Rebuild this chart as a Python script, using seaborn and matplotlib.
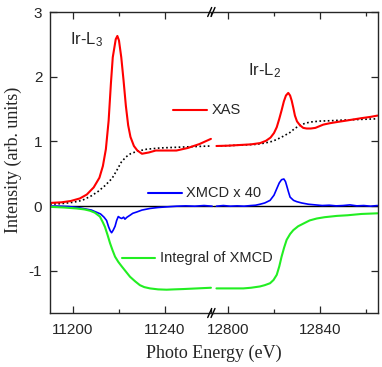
import numpy as np
import pandas as pd
import matplotlib
matplotlib.use("Agg")
import matplotlib.pyplot as plt
from matplotlib.ticker import MultipleLocator
import seaborn as sns

# Ir-L3 edge (left panel)
e_l3_xas = [11190, 11195, 11199, 11203, 11206, 11209, 11211.5, 11213, 11214.3, 11215.5,
            11216.5, 11217.3, 11218.6, 11219.3, 11220, 11221, 11222, 11223, 11224, 11225,
            11226.5, 11228, 11230, 11233, 11236, 11240, 11245, 11250, 11255, 11260]
xas_l3 = [0.05, 0.06, 0.08, 0.12, 0.18, 0.29, 0.44, 0.62, 0.88, 1.32,
          1.90, 2.30, 2.58, 2.63, 2.56, 2.30, 1.94, 1.55, 1.25, 1.07,
          0.93, 0.86, 0.81, 0.83, 0.86, 0.86, 0.86, 0.90, 0.96, 1.04]

e_l3_bg = [11190, 11195, 11200, 11204, 11208, 11211, 11214, 11217, 11219, 11221,
           11223, 11225, 11228, 11232, 11238, 11245, 11252, 11260]
bg_l3 = [0.03, 0.04, 0.06, 0.09, 0.16, 0.23, 0.32, 0.43, 0.55, 0.68,
         0.76, 0.81, 0.85, 0.88, 0.90, 0.91, 0.92, 0.93]

e_l3_xmcd = [11190, 11194, 11198, 11202, 11205, 11208, 11210, 11212, 11213.5, 11214.6,
             11215.5, 11216.2, 11216.8, 11217.5, 11218.3, 11219, 11219.7, 11220.5, 11221.2, 11222,
             11222.6, 11223.5, 11224.8, 11226, 11227.7, 11230, 11233.5, 11237, 11241, 11245,
             11249, 11253, 11257, 11260.5]
xmcd_l3 = [0.0, 0.0, -0.005, -0.02, -0.04, -0.06, -0.09, -0.12, -0.17, -0.22,
           -0.32, -0.38, -0.41, -0.37, -0.31, -0.22, -0.16, -0.18, -0.19, -0.17,
           -0.20, -0.17, -0.14, -0.11, -0.09, -0.06, -0.035, -0.02, -0.01, 0.0,
           0.005, 0.0, 0.01, 0.0]

e_l3_int = [11190, 11196, 11201.6, 11205, 11207.4, 11209.5, 11211.7, 11213, 11213.9, 11215,
            11216.1, 11217.2, 11218.3, 11219.7, 11221.2, 11223, 11224.8, 11227, 11229.1, 11231,
            11233.5, 11237, 11240.7, 11244, 11248, 11254, 11260]
int_l3 = [-0.01, -0.02, -0.035, -0.05, -0.07, -0.10, -0.16, -0.25, -0.32, -0.44,
          -0.57, -0.68, -0.78, -0.86, -0.93, -1.01, -1.09, -1.16, -1.22, -1.25,
          -1.27, -1.285, -1.29, -1.285, -1.28, -1.27, -1.26]

# Ir-L2 edge (right panel)
e_l2_xas = [12795, 12800, 12805, 12810, 12814, 12816.5, 12818.5, 12820, 12821.2, 12822.3,
            12823.3, 12824.3, 12825.2, 12826.2, 12827, 12827.7, 12828.4, 12829.1, 12830, 12831.3,
            12832.7, 12834.2, 12836, 12838, 12841.4, 12844, 12847.3, 12851, 12854.5, 12858,
            12862, 12865]
xas_l2 = [0.93, 0.935, 0.945, 0.955, 0.975, 1.01, 1.06, 1.13, 1.22, 1.35,
          1.48, 1.62, 1.71, 1.75, 1.71, 1.63, 1.52, 1.40, 1.31, 1.25,
          1.21, 1.20, 1.20, 1.21, 1.26, 1.28, 1.30, 1.32, 1.34, 1.36,
          1.38, 1.40]

e_l2_bg = [12795, 12800, 12806, 12812, 12816, 12819, 12821.2, 12824, 12827, 12829,
           12831.3, 12833.5, 12835.7, 12840, 12844.3, 12850, 12857, 12865]
bg_l2 = [0.93, 0.935, 0.945, 0.955, 0.975, 1.0, 1.03, 1.08, 1.14, 1.20,
         1.25, 1.28, 1.30, 1.315, 1.32, 1.33, 1.34, 1.35]

e_l2_xmcd = [12795, 12798, 12801, 12804, 12807, 12810, 12812, 12813.9, 12816, 12818.3,
             12820, 12821.2, 12822.3, 12823.3, 12824.3, 12825, 12825.5, 12826.3, 12827, 12828.5,
             12829.9, 12832, 12835, 12838, 12841, 12844, 12847, 12850, 12853, 12856,
             12859, 12862, 12865]
xmcd_l2 = [0.0, 0.01, 0.0, 0.005, 0.0, 0.01, 0.015, 0.03, 0.05, 0.09,
           0.17, 0.27, 0.36, 0.41, 0.42, 0.38, 0.32, 0.22, 0.14, 0.09,
           0.07, 0.05, 0.03, 0.02, 0.01, 0.015, 0.005, 0.01, 0.02, 0.005,
           0.01, 0.0, 0.01]

e_l2_int = [12795, 12800, 12806.7, 12810, 12813.9, 12816, 12818.3, 12819.8, 12821.2, 12822.3,
            12823.3, 12824.4, 12825.5, 12827, 12828.4, 12830.5, 12832.7, 12835.5, 12838.6, 12842,
            12847.3, 12852, 12858, 12865]
int_l2 = [-1.27, -1.27, -1.27, -1.26, -1.24, -1.22, -1.19, -1.14, -1.06, -0.93,
          -0.78, -0.64, -0.52, -0.43, -0.37, -0.31, -0.27, -0.22, -0.19, -0.17,
          -0.15, -0.14, -0.12, -0.11]

sns.set_style("ticks")
plt.rcParams['font.family'] = ['Liberation Sans', 'DejaVu Sans']
plt.rcParams['mathtext.default'] = 'regular'
plt.rcParams['axes.unicode_minus'] = False
plt.rcParams['xtick.direction'] = 'in'
plt.rcParams['ytick.direction'] = 'in'

red, blue, green = '#ff0000', '#0000ff', '#22ee22'

fig = plt.figure(figsize=(3.82, 3.67), dpi=100)
ax1 = fig.add_axes([50/382, 1-313/367, 163/382, 301/367])
ax2 = fig.add_axes([213/382, 1-313/367, 165/382, 301/367])
ax2.patch.set_visible(False)

for ax in (ax1, ax2):
    ax.axhline(0, color='k', lw=1.0, zorder=1)

# left panel
sns.lineplot(x=e_l3_bg, y=bg_l3, ax=ax1, color='k', lw=1.2, linestyle=(0, (1, 1.5)))
sns.lineplot(x=e_l3_xas, y=xas_l3, ax=ax1, color=red, lw=1.5)
sns.lineplot(x=e_l3_xmcd, y=xmcd_l3, ax=ax1, color=blue, lw=1.2)
sns.lineplot(x=e_l3_int, y=int_l3, ax=ax1, color=green, lw=1.5)

# right panel
sns.lineplot(x=e_l2_bg, y=bg_l2, ax=ax2, color='k', lw=1.2, linestyle=(0, (1, 1.5)))
sns.lineplot(x=e_l2_xas, y=xas_l2, ax=ax2, color=red, lw=1.5)
sns.lineplot(x=e_l2_xmcd, y=xmcd_l2, ax=ax2, color=blue, lw=1.2)
sns.lineplot(x=e_l2_int, y=int_l2, ax=ax2, color=green, lw=1.5)

ax1.set_xlim(11190, 11260.9)
ax2.set_xlim(12793.5, 12865.2)
for ax in (ax1, ax2):
    ax.set_ylim(-1.65, 3.0)
    ax.xaxis.set_major_locator(MultipleLocator(40))
    ax.xaxis.set_minor_locator(MultipleLocator(20))
    ax.yaxis.set_major_locator(MultipleLocator(1))
    ax.tick_params(which='major', length=5, width=0.9, labelsize=11, top=True)
    ax.tick_params(which='minor', length=3, width=0.9, top=True)
    ax.tick_params(axis='x', pad=7)
    ax.tick_params(axis='y', pad=5.5)
    ax.set_xlabel('')
    ax.set_ylabel('')
    for s in ax.spines.values():
        s.set_linewidth(1.0)

ax1.spines['right'].set_visible(False)
ax2.spines['left'].set_visible(False)
ax1.tick_params(axis='y', left=True, right=False)
ax2.tick_params(axis='y', left=False, right=True, labelleft=False)

# legend-like labels
ax1.plot([11243.5, 11258.3], [1.48, 1.48], color=red, lw=1.5, clip_on=False)
ax1.text(11260.5, 1.48, 'XAS', fontsize=10.5, va='center', ha='left', zorder=10)
ax1.plot([11232.6, 11247.4], [0.2, 0.2], color=blue, lw=1.5, clip_on=False)
ax1.text(11249.1, 0.2, 'XMCD x 40', fontsize=10.5, va='center', ha='left', zorder=10)
ax1.plot([11221.3, 11235.7], [-0.8, -0.8], color=green, lw=1.5, clip_on=False)
ax1.text(11237.8, -0.8, 'Integral of XMCD', fontsize=10.5, va='center', ha='left', zorder=10)

ax1.text(11198.5, 2.58, 'Ir-L$_3$', fontsize=12, va='center', ha='left')
ax2.text(12808.5, 2.09, 'Ir-L$_2$', fontsize=12, va='center', ha='left')

# break marks
for y0 in (0, 1):
    for dx in (-0.02, 0.0):
        ax2.plot([dx - 0.012, dx + 0.012], [y0 - 0.015, y0 + 0.015],
                 transform=ax2.transAxes, color='k', lw=1.0, clip_on=False)

fig.text(214/382, 1-353/367, 'Photo Energy (eV)', fontsize=13, ha='center', va='center',
         family='Liberation Serif')
fig.text(13/382, 1-160/367, 'Intensity (arb. units)', fontsize=13, ha='center', va='center',
         rotation=90, family='Liberation Serif')

fig.savefig('out.png', dpi=100)
